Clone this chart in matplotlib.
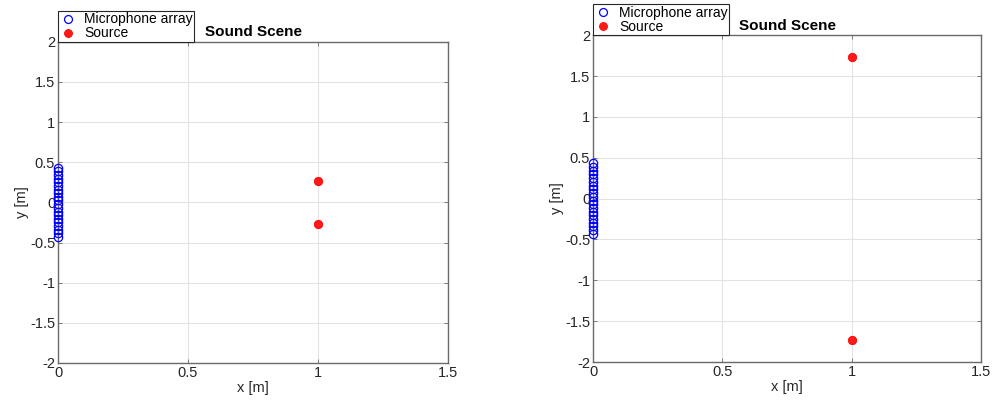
import matplotlib
matplotlib.use("Agg")
import matplotlib.pyplot as plt

plt.rcParams['font.family'] = ['Liberation Sans', 'DejaVu Sans']

mic_x = [0.0] * 20
mic_y = [-0.43, -0.385, -0.34, -0.295, -0.25, -0.205, -0.16, -0.115, -0.07, -0.025,
         0.025, 0.07, 0.115, 0.16, 0.205, 0.25, 0.295, 0.34, 0.385, 0.43]

src_x_left = [1.0, 1.0]
src_y_left = [0.268, -0.268]
src_x_right = [1.0, 1.0]
src_y_right = [1.732, -1.732]

xticks = [0, 0.5, 1, 1.5]
xticklabels = ['0', '0.5', '1', '1.5']
yticks = [-2, -1.5, -1, -0.5, 0, 0.5, 1, 1.5, 2]
yticklabels = ['-2', '-1.5', '-1', '-0.5', '0', '0.5', '1', '1.5', '2']

fig = plt.figure(figsize=(9.95, 4.03), dpi=100)
ax1 = fig.add_axes([0.0583, 0.0993, 0.392, 0.797])
ax2 = fig.add_axes([0.596, 0.1017, 0.390, 0.811])

for ax, sx, sy in [(ax1, src_x_left, src_y_left), (ax2, src_x_right, src_y_right)]:
    ax.plot(mic_x, mic_y, linestyle='none', marker='o', markersize=6.0,
            markerfacecolor='none', markeredgecolor='#0000ff', markeredgewidth=0.9,
            label='Microphone array', clip_on=False, zorder=5)
    ax.plot(sx, sy, linestyle='none', marker='o', markersize=6.0,
            markerfacecolor='#ff1a1a', markeredgecolor='#ff0000', markeredgewidth=0.6,
            label='Source', zorder=5)
    ax.set_xlim(0, 1.5)
    ax.set_ylim(-2, 2)
    ax.set_xticks(xticks)
    ax.set_xticklabels(xticklabels)
    ax.set_yticks(yticks)
    ax.set_yticklabels(yticklabels)
    ax.grid(True, color='#e3e3e3', linewidth=0.8)
    ax.set_axisbelow(True)
    for s in ax.spines.values():
        s.set_color('#6a6a6a')
        s.set_linewidth(1.0)
    ax.tick_params(direction='in', length=3, width=0.6, color='#6a6a6a',
                   labelcolor='#262626', labelsize=10.5, pad=2, top=True, right=True)
    ax.set_xlabel('x [m]', fontsize=10.5, color='#262626', labelpad=1)
    ax.set_ylabel('y [m]', fontsize=10.5, color='#262626', labelpad=1)
    ax.set_title('Sound Scene', fontsize=11, fontweight='bold', pad=4)
    leg = ax.legend(loc='lower left', bbox_to_anchor=(0, 1), borderaxespad=0,
                    fontsize=10, frameon=True, fancybox=False, edgecolor='#262626',
                    framealpha=1, handletextpad=0.5, borderpad=0.1,
                    labelspacing=0.0, handlelength=1.3, markerscale=0.95)
    leg.get_frame().set_linewidth(0.8)

fig.savefig('out.png', dpi=100)
